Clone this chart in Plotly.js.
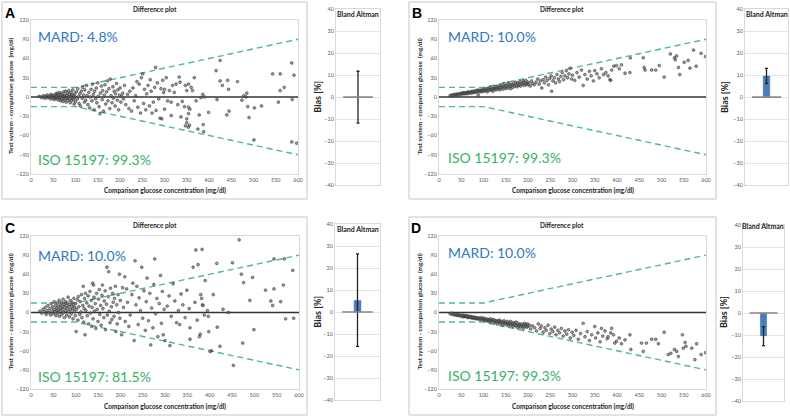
<!DOCTYPE html>
<html><head><meta charset="utf-8">
<script src="https://cdn.plot.ly/plotly-3.0.1.min.js"></script>
<style>html,body{margin:0;padding:0;background:#fff}#chart{width:790px;height:417px}</style>
</head><body><div id="chart"></div>
<script>
// ---- Data ----
const panelLetters = ['A','B','C','D'];
const mardLabels = ['MARD: 4.8%','MARD: 10.0%','MARD: 10.0%','MARD: 10.0%'];
const isoLabels = ['ISO 15197: 99.3%','ISO 15197: 99.3%','ISO 15197: 81.5%','ISO 15197: 99.3%'];
const isoX = [0,100,600];
const isoUpper = [15,15,90];
const isoLower = [-15,-15,-90];
const zeroX = [0,600];
const zeroY = [0,0];
const baBias  = [0, 9.6, 5.2, -10.3];
const baUpper = [11.8, 13.1, 26.4, -6.2];
const baLower = [-11.8, 6.25, -15.6, -14.8];
const xTicks = [0,50,100,150,200,250,300,350,400,450,500,550,600];
const yTicks = [-120,-90,-60,-30,0,30,60,90,120];
const baTicks = [-40,-30,-20,-10,0,10,20,30,40];

const pointsA = [[18,1],[22,0],[25,-1],[28,2],[30,0],[32,-2],[34,1],[36,3],[38,-1],[40,0],[42,2],[44,-3],[45,4],[47,1],[48,-2],[50,0],[51,3],[52,-4],[54,2],[55,-1],[56,5],[57,-3],[58,1],[59,6],[60,-2],
[61,3],[62,-5],[63,0],[64,7],[65,-1],[66,4],[67,-6],[68,2],[69,-3],[70,5],[71,0],[72,-7],[73,8],[74,1],[75,-4],[76,3],[77,-2],[78,9],[79,-8],[80,2],[81,-1],[82,6],[83,-5],[84,0],[85,10],[86,-3],[87,4],[88,-9],[89,1],[90,7],[91,-6],[92,3],[93,-2],[94,11],[95,-4],[96,2],[97,-11],[98,5],[99,0],[100,-7],
[102,8],[104,-3],[105,13],[107,1],[108,-10],[110,5],[111,-14],[113,9],[115,-2],[116,15],[118,3],[120,-8],[121,11],[123,-5],[125,18],[126,2],[128,-12],[130,7],[132,-17],[133,0],[135,12],[137,-6],[138,20],[140,4],[142,-20],[143,9],[145,-3],[147,14],[148,-9],[150,22],[151,1],[153,-15],[155,-26],[156,6],[158,17],[160,-4],[161,10],[163,-22],[165,3],[166,19],[168,-11],[170,8],[172,25],[173,-6],[175,13],[177,-18],[178,28],[180,2],[182,-9],[184,16],[185,-2],[187,9],[189,-14],[190,5],[192,21],[194,-5],[195,11],[197,-20],[199,3],[200,14],[202,-8],[204,1],[206,6],[208,-3],[210,18],
[213,-12],[217,4],[220,-18],[222,9],[226,-22],[229,14],[232,-6],[235,2],[238,24],[240,-16],[243,20],[246,-25],[248,30],[251,36],[253,-10],[255,12],[258,-20],[260,5],[263,18],[266,-14],[268,27],[270,9],[272,-25],[275,-8],[278,15],[280,46],[281,-21],[284,22],[287,-3],[290,-33],[292,13],[294,-34],[296,26],[298,7],[300,-19],[300,12],
[304,30],[307,-6],[311,10],[315,-8],[315,-29],[318,18],[322,7],[326,20],[330,-12],[333,31],[335,23],[337,-31],[340,-7],[345,-15],[347,18],[347,-45],[350,10],[350,-34],[350,-40],[354,20],[354,-16],[354,-26],[354,-47],[356,-44],[357,-19],[360,15],[363,10],[367,30],[371,-6],[375,-50],[378,-28],[382,-1],[386,4],[387,-43],[388,-54],[390,0],[399,-24],
[416,41],[418,-4],[425,57],[425,25],[430,18],[440,-28],[442,26],[444,12],[445,-22],[464,24],[474,-5],[478,2],[483,0],[485,6],[487,-15],[490,-32],[502,-17],[501,-67],[518,-14],[543,36],[556,-8],[560,36],[560,10],[569,15],[586,53],[591,34],[587,-4],[586,-70],[597,-72]];

const pointsB = [[25,2],[28,3],[30,2],[33,4],[35,3],[37,4],[40,4],[42,5],[44,3],[46,5],[48,4],[50,6],[52,5],[54,5],[55,7],[57,6],[58,5],[60,6],[62,7],[63,5],[65,7],[66,8],[68,6],[70,7],[71,8],[73,6],[75,9],[76,7],[78,8],[80,9],[81,7],[83,10],[85,8],[86,9],[88,3],[88,11],[90,8],[91,10],[93,9],[95,11],[96,8],[98,10],[100,12],[101,9],[103,11],[105,13],[106,10],[108,8],[110,12],[111,14],[113,10],[115,12],[116,15],[118,11],[120,13],[121,9],[123,14],[125,12],[126,16],[128,11],[130,14],[131,17],[133,13],[135,15],[136,11],[138,18],[140,14],[141,16],[143,12],[145,17],[146,21],[148,15],[150,13],[151,18],[153,16],[155,22],[156,14],[158,19],[160,17],[161,13],[163,20],[165,18],[166,15],[168,21],[170,17],[172,23],[173,19],[175,16],[177,22],[178,18],[180,20],[182,24],[183,17],[185,21],[187,19],[189,25],[190,22],[192,18],[194,21],[195,26],[197,20],[199,23],[200,19],[202,22],[205,17],[208,25],[210,21],[214,19],[218,23],[222,28],[225,20],[228,25],[231,14],[234,27],[237,22],[240,31],[243,26],[246,19],[249,29],[252,33],[253,9],[256,25],[259,30],[262,22],[265,35],[268,28],[271,24],[274,32],[277,38],[280,27],[283,33],[286,41],[289,30],[292,36],[295,45],[298,28],[300,34],[305,26],[310,38],[315,31],[320,42],[324,18],[328,35],[333,28],[338,40],[342,33],[347,25],[350,41],[355,36],[360,30],[365,44],[370,35],[375,38],[380,33],[384,27],[386,26],[388,42],[393,48],[399,49],[405,44],[410,50],[418,37],[429,38],[430,61],[459,61],[461,46],[463,42],[478,42],[487,42],[495,49],[506,31],[520,67],[529,61],[534,64],[531,58],[538,46],[541,35],[551,54],[560,57],[564,45],[572,73],[578,48],[589,68],[599,63]];

const pointsC = [[20,2],[24,-1],[27,5],[30,1],[32,8],[34,-3],[36,3],[38,11],[40,0],[42,6],[44,-4],[45,14],[47,2],[48,9],[50,-2],[51,5],[52,17],[54,1],[55,11],[56,-5],[57,7],[58,3],[59,15],[60,-1],[61,9],[62,4],[63,19],[64,-6],[65,12],[66,2],[67,7],[68,16],[69,-3],[70,10],[71,5],[72,21],[73,0],[74,13],[75,-8],[76,8],[77,17],[78,3],[79,11],[80,-4],[81,15],[82,6],[83,24],[84,1],[85,9],[86,-7],[87,13],[88,19],[89,4],[90,-2],[91,10],[92,16],[93,6],[94,-10],[95,12],[96,22],[97,2],[98,8],[99,-5],[100,14],
[101,-30],[102,5],[104,20],[105,-12],[106,25],[107,9],[109,-3],[110,17],[112,1],[113,28],[114,-8],[116,11],[117,41],[118,-15],[119,6],[120,22],[121,-35],[122,30],[123,3],[125,15],[126,-5],[128,26],[129,-18],[130,10],[132,33],[133,-1],[135,19],[136,-22],[137,8],[138,46],[139,-10],[140,43],[141,24],[142,2],[144,14],[145,-25],[147,30],[148,5],[150,-14],[151,21],[153,36],[154,-3],[156,11],[157,-20],[159,27],[160,43],[161,6],[163,-8],[164,18],[166,34],[167,-27],[169,13],[170,71],[171,-4],[173,25],[174,64],[175,2],[177,-16],[178,38],[180,9],[181,-11],[183,30],[184,16],[186,-6],[187,22],[189,41],[190,-30],[192,12],[193,-18],[195,28],[196,0],[198,60],[199,-9],[200,19],
[203,-35],[205,39],[207,8],[210,56],[211,-14],[214,37],[216,16],[219,-22],[222,-4],[226,28],[228,46],[231,-44],[233,81],[235,12],[237,41],[240,-19],[242,23],[245,3],[248,71],[250,-9],[253,34],[256,-28],[258,17],[260,54],[263,-13],[266,30],[268,-51],[270,7],[273,-24],[275,44],[277,84],[279,-2],[282,22],[284,-38],[287,14],[290,58],[292,-17],[294,33],[296,-35],[298,5],[300,-44],
[305,10],[309,26],[311,-52],[314,-6],[318,45],[322,18],[326,-16],[330,3],[333,-19],[336,29],[340,12],[345,-8],[349,35],[354,6],[356,-24],[356,-42],[363,71],[367,16],[369,98],[372,-12],[374,75],[377,-38],[379,-34],[380,28],[382,22],[383,99],[384,12],[385,11],[388,-4],[390,50],[395,3],[397,-6],[398,-30],[401,-61],[404,-60],[408,28],[416,77],[417,-23],[423,-53],
[430,5],[442,0],[451,78],[453,-83],[466,114],[471,60],[474,-48],[476,47],[490,19],[496,55],[499,-27],[525,35],[537,18],[541,11],[544,37],[544,84],[559,17],[565,43],[567,84],[570,-10],[586,66],[588,-9]];

const pointsD = [[25,-2],[28,-1],[30,-3],[33,-2],[35,-4],[37,-3],[40,-4],[42,-5],[44,-3],[46,-5],[48,-4],[50,-6],[52,-5],[54,-4],[55,-7],[57,-6],[58,-5],[60,-6],[62,-7],[63,-5],[65,-8],[66,-6],[68,-7],[70,-8],[71,-6],[73,-7],[75,-9],[76,-8],[78,-7],[80,-9],[81,-8],[83,-10],[85,-9],[86,-8],[88,-10],[90,-9],[91,-11],[93,-10],[95,-8],[96,-11],[98,-10],[100,-12],[101,-9],[103,-11],[105,-13],[106,-10],[108,-12],[110,-11],[111,-14],[113,-12],[115,-10],[116,-15],[118,-12],[120,-13],[121,-11],[123,-14],[125,-12],[126,-16],[128,-13],[130,-14],[131,-18],[133,-13],[135,-15],[136,-12],[138,-17],[140,-14],[141,-16],[143,-20],[145,-15],[146,-13],[148,-17],[150,-16],[151,-19],[153,-14],[155,-18],[156,-21],[158,-16],[160,-18],[161,-14],[163,-20],[165,-17],[166,-22],[168,-16],[170,-19],[172,-21],[173,-15],[175,-20],[177,-24],[178,-17],[180,-21],[182,-19],[183,-23],[185,-18],[187,-22],[189,-20],[190,-25],[192,-17],[194,-21],[195,-19],[197,-23],[199,-18],[200,-22],[203,-20],[206,-26],[210,-21],[215,-24],[219,-29],[223,-18],[227,-25],[230,-21],[234,-31],[238,-24],[241,-28],[245,-20],[249,-33],[252,-26],[256,-30],[260,-23],[263,-35],[267,-28],[271,-32],[275,-25],[279,-37],[283,-29],[287,-34],[291,-27],[295,-40],[299,-31],[303,-36],[308,-28],[313,-42],[318,-33],[324,-17],[328,-38],[333,-30],[338,-44],[343,-35],[350,-22],[352,-40],[357,-32],[362,-46],[365,-25],[368,-37],[373,-29],[378,-41],[380,-38],[386,-32],[388,-25],[392,-35],[395,-48],[399,-45],[405,-40],[410,-49],[418,-43],[429,-35],[431,-58],[455,-48],[459,-61],[466,-48],[478,-42],[487,-42],[493,-49],[506,-31],[515,-66],[521,-64],[529,-58],[534,-61],[538,-69],[547,-35],[549,-56],[553,-47],[555,-53],[568,-56],[575,-74],[579,-49],[589,-66],[599,-63]];

const allPoints = [pointsA, pointsB, pointsC, pointsD];

// ---- Layout geometry (pixels in a 790x417 page) ----
const W = 790, H = 417;
const px = v => v / W;
const py = v => 1 - v / H;
const scatterBox = [ // [left, right, top, bottom]
  [31, 298, 20, 174], [439, 706, 20, 174], [31, 299, 236, 389], [439, 706, 236, 389]];
const baBox = [
  [336, 380, 9.3, 185], [745, 788, 9.3, 185], [335, 380, 224, 400], [743, 784, 225, 401]];
const outerBox = [[2, 307, 2, 199], [409, 716, 2, 199], [2, 307, 217, 415], [409, 716, 217, 415]];
const letterPos = [[10, 13], [417, 13], [10, 228], [416, 228]];
const titlePos = [[155, 9], [562, 9], [155, 225], [562, 225]];
const xTitlePos = [[165, 190.5], [573, 190.5], [165, 406], [573, 406]];
const yTitlePos = [[10, 96], [419, 96.5], [10, 311.5], [419, 311.5]];
const mardPos = [[36, 36], [445.7, 36], [36, 255], [445.7, 252.7]];
const isoPos = [[36, 159], [445.7, 157], [36, 376.7], [445.7, 375]];
const biasPos = [[316.7, 97], [724, 97], [316.7, 312], [723, 312]];
const baTitlePos = [[358, 14], [766.7, 14], [357.7, 229.3], [763, 226]];

const BLUE = '#2f78c2', GREEN = '#36b167', LINEGREEN = '#4dbb82';
const FONT = 'Lato, "Open Sans", sans-serif';
const TICKFONT = {family: FONT, size: 5.5, color: '#595959'};

const traces = [];
const layout = {
  width: W, height: H, margin: {l: 0, r: 0, t: 0, b: 0},
  paper_bgcolor: '#fff', plot_bgcolor: '#fff', showlegend: false,
  annotations: [], shapes: []
};

for (let i = 0; i < 4; i++) {
  const sIdx = 2 * i + 1, bIdx = 2 * i + 2;
  const sx = 'x' + (sIdx === 1 ? '' : sIdx), sy = 'y' + (sIdx === 1 ? '' : sIdx);
  const bx = 'x' + bIdx, by = 'y' + bIdx;
  const pts = allPoints[i];
  // scatter
  traces.push({type: 'scatter', mode: 'lines', x: isoX, y: isoUpper, xaxis: sx, yaxis: sy,
    line: {color: LINEGREEN, width: 1.4, dash: '6px,4px'}, hoverinfo: 'skip'});
  traces.push({type: 'scatter', mode: 'lines', x: isoX, y: isoLower, xaxis: sx, yaxis: sy,
    line: {color: LINEGREEN, width: 1.4, dash: '6px,4px'}, hoverinfo: 'skip'});
  traces.push({type: 'scatter', mode: 'lines', x: zeroX, y: zeroY, xaxis: sx, yaxis: sy,
    line: {color: '#333', width: 1.3}, hoverinfo: 'skip'});
  traces.push({type: 'scatter', mode: 'markers', x: pts.map(p => p[0]), y: pts.map(p => p[1]),
    xaxis: sx, yaxis: sy,
    marker: {size: 2.8, color: 'rgba(115,115,115,0.7)', line: {color: 'rgba(40,40,40,0.85)', width: 0.6}}});
  // Bland Altman
  traces.push({type: 'scatter', mode: 'lines', x: [-0.68, 0.68], y: [0, 0], xaxis: bx, yaxis: by,
    line: {color: '#8c8c8c', width: 1.6}, hoverinfo: 'skip'});
  traces.push({type: 'bar', x: [0], y: [baBias[i]], xaxis: bx, yaxis: by, width: 0.3,
    marker: {color: '#4a7ebb', line: {color: '#3a67a0', width: 0.5}},
    error_y: {type: 'data', symmetric: false, array: [baUpper[i] - baBias[i]],
      arrayminus: [baBias[i] - baLower[i]], color: '#222', thickness: 1.3, width: 1.5}});

  const s = scatterBox[i], b = baBox[i];
  layout['xaxis' + (sIdx === 1 ? '' : sIdx)] = {
    domain: [px(s[0]), px(s[1])], anchor: sy, range: [0, 600], tickvals: xTicks,
    showgrid: false, zeroline: false, showline: true, linecolor: '#d9d9d9', linewidth: 1, mirror: true,
    ticks: '', tickfont: TICKFONT, fixedrange: true};
  layout['yaxis' + (sIdx === 1 ? '' : sIdx)] = {
    domain: [py(s[3]), py(s[2])], anchor: sx, range: [-120, 120], tickvals: yTicks,
    showgrid: false, zeroline: false, showline: true, linecolor: '#d9d9d9', linewidth: 1, mirror: true,
    ticks: '', tickfont: TICKFONT, fixedrange: true};
  layout['xaxis' + bIdx] = {
    domain: [px(b[0]), px(b[1])], anchor: by, range: [-1, 1], showticklabels: false,
    showgrid: false, zeroline: false, showline: true, linecolor: '#d9d9d9', mirror: true, ticks: '', fixedrange: true};
  layout['yaxis' + bIdx] = {
    domain: [py(b[3]), py(b[2])], anchor: bx, range: [-40, 40], tickvals: baTicks,
    showgrid: true, gridcolor: '#e3e3e3', gridwidth: 1, zeroline: false, showline: true, linecolor: '#d9d9d9', mirror: true,
    ticks: '', tickfont: TICKFONT, fixedrange: true};

  const o = outerBox[i];
  layout.shapes.push({type: 'rect', xref: 'paper', yref: 'paper', x0: px(o[0]), x1: px(o[1]), y0: py(o[3]), y1: py(o[2]),
    line: {color: '#c6c6c6', width: 1}, layer: 'below'});

  const A = (t, pos, opts) => layout.annotations.push(Object.assign({
    text: t, xref: 'paper', yref: 'paper', x: px(pos[0]), y: py(pos[1]), showarrow: false,
    xanchor: 'center', yanchor: 'middle'}, opts));
  A('<b>' + panelLetters[i] + '</b>', letterPos[i], {font: {family: 'Liberation Sans, Arial', size: 14, color: '#000'}});
  A('<b>Difference plot</b>', titlePos[i], {font: {family: FONT, size: 6.5, color: '#222'}});
  A('<b>Comparison glucose concentration (mg/dl)</b>', xTitlePos[i], {font: {family: FONT, size: 6.5, color: '#222'}});
  A('<b>Test system - comparison glucose  (mg/dl)</b>', yTitlePos[i], {textangle: -90, font: {family: FONT, size: 6.3, color: '#222'}});
  A(mardLabels[i], mardPos[i], {xanchor: 'left', font: {family: FONT, size: 14, color: BLUE}});
  A(isoLabels[i], isoPos[i], {xanchor: 'left', font: {family: FONT, size: 14, color: GREEN}});
  A('<b>Bias [%]</b>', biasPos[i], {textangle: -90, font: {family: FONT, size: 9, color: '#222'}});
  A('<b>Bland Altman</b>', baTitlePos[i], {font: {family: FONT, size: 7, color: '#222'}});
}

Plotly.newPlot('chart', traces, layout, {displayModeBar: false, staticPlot: true});
</script>
</body></html>
